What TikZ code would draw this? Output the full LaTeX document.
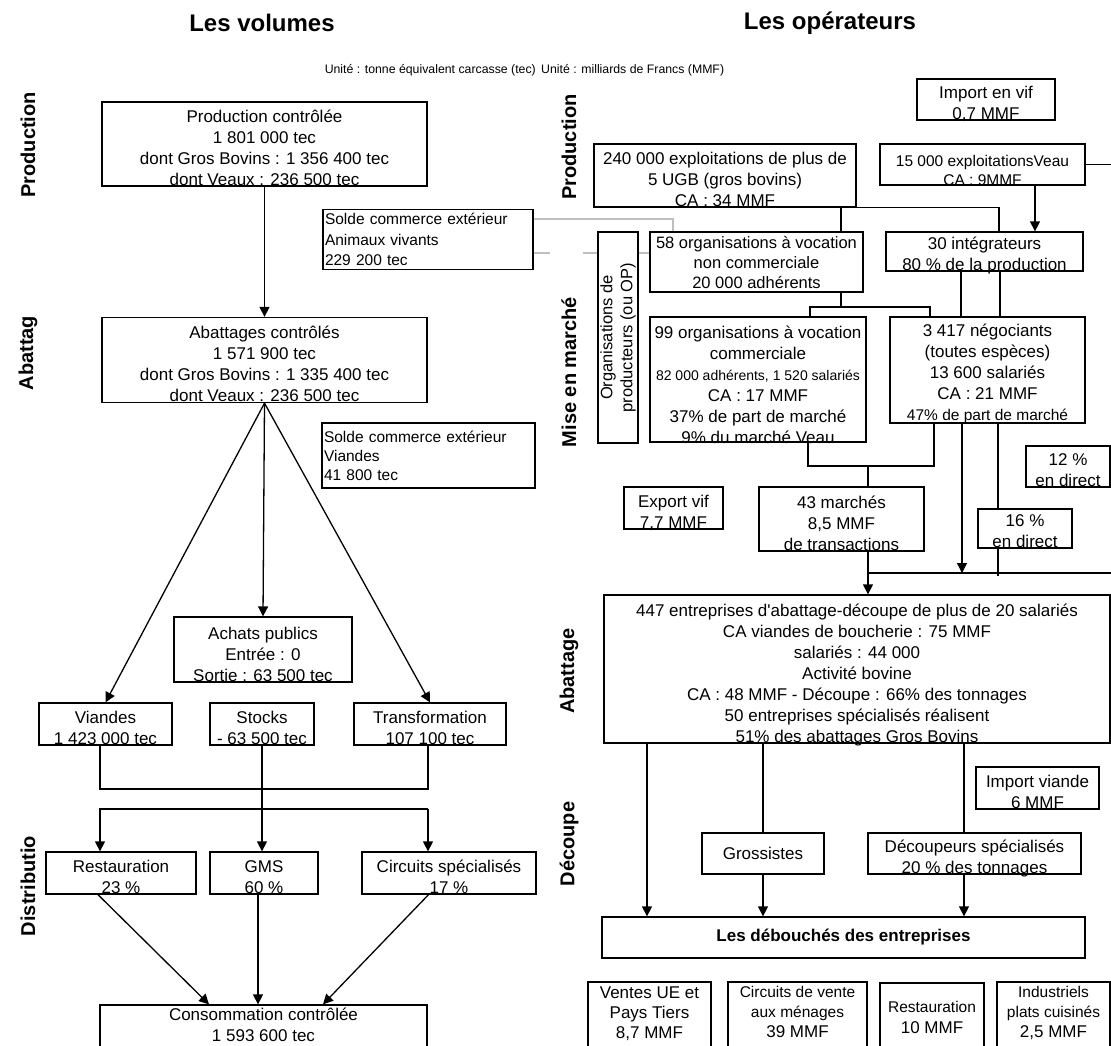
\documentclass[tikz,border=0pt]{standalone}
\usepackage{fontspec}
\setmainfont{Liberation Sans}
\usetikzlibrary{arrows.meta}
\begin{document}
\begin{tikzpicture}[x=1pt,y=-1pt,
	every node/.style={font=\fontsize{17}{21}\selectfont},
	box/.style 2 args={draw,line width=1.3pt,inner sep=0pt,minimum width=#1pt,minimum height=#2pt},
	cut/.style={anchor=south,align=center,inner sep=0pt,yshift=#1,execute at end node=\strut},
	cut/.default=-5.3pt,
	head/.style={anchor=north,align=center,inner sep=0pt,yshift=#1,execute at begin node=\strut},
	head/.default=-5pt,
	solde/.style={draw,line width=1.3pt,align=left,text width=#1pt,inner xsep=2pt,inner ysep=4pt,font=\fontsize{15.5}{20.5}\selectfont},
	arr/.style={line width=1.3pt,-{Triangle[length=10pt,width=10pt]}},
	link/.style={line width=1.3pt},
	greyline/.style={line width=2.6pt,draw=black!25},
	stage/.style={rotate=90,font=\bfseries\fontsize{20}{24}\selectfont},
	title/.style={font=\bfseries\fontsize{24}{28}\selectfont},
	unit/.style={inner sep=0pt,font=\fontsize{12.3}{15}\selectfont}]
\path[use as bounding box,fill=white] (0,0) rectangle (1111,1045);

\node[title] (tvol) at (262,23) {Les volumes};
\node[title] (tope) at (830,23) {Les opérateurs};
\node[unit,anchor=east] (unita) at (536,70) {Unité : tonne équivalent carcasse (tec)};
\node[unit,anchor=west] (unitb) at (541,70) {Unité : milliards de Francs (MMF)};

\node[stage] (sprod) at (28,145) {Production};
\node[stage] (sabat) at (28,353) {Abattag};
\node[stage] (sdist) at (28,886) {Distributio};
\node[stage] (oprod) at (569,147) {Production};
\node[stage] (omarch) at (569,372) {Mise en marché};
\node[stage] (oabat) at (569,671) {Abattage};
\node[stage] (odec) at (569,844) {Découpe};

\node[box={325}{84},label={[cut]south:{Production contrôlée\\1 801 000 tec\\dont Gros Bovins : 1 356 400 tec\\dont Veaux : 236 500 tec}}] (prod) at (264.5,144) {};
\node[solde=206] (soldeav) at (428,239.5) {Solde commerce extérieur\\Animaux vivants\\229 200 tec};
\node[box={325}{85},label={[cut]south:{Abattages contrôlés\\1 571 900 tec\\dont Gros Bovins : 1 335 400 tec\\dont Veaux : 236 500 tec}}] (abat) at (264.5,360) {};
\node[solde=209,minimum height=65pt,font=\fontsize{15.5}{19}\selectfont] (soldevi) at (428.5,455.5) {Solde commerce extérieur\\Viandes\\41 800 tec};
\node[box={178}{65},label={[cut]south:{Achats publics\\Entrée : 0\\Sortie : 63 500 tec}}] (achats) at (263,649.5) {};
\node[box={133}{42},label={[cut]south:{Viandes\\1 423 000 tec}}] (viandes) at (105.5,724) {};
\node[box={104}{42},label={[cut]south:{Stocks\\- 63 500 tec}}] (stocks) at (262,724) {};
\node[box={152}{42},label={[cut]south:{Transformation\\107 100 tec}}] (transf) at (430,724) {};
\node[box={150}{42},label={[cut]south:{Restauration\\23 \%}}] (resto) at (121,873) {};
\node[box={108}{42},label={[cut]south:{GMS\\60 \%}}] (gms) at (264,873) {};
\node[box={174}{42},label={[cut]south:{Circuits spécialisés\\17 \%}}] (circ) at (449,873) {};
\node[box={327}{45},label={[head=-3pt]north:{Consommation contrôlée\\1 593 600 tec}}] (conso) at (263.5,1027.5) {};

\node[box={138}{41},label={[cut]south:{Import en vif\\0,7 MMF}}] (impvif) at (986,99.5) {};
\node[box={262}{63},label={[cut]south:{240 000 exploitations de plus de\\5 UGB (gros bovins)\\CA : 34 MMF}}] (exploit) at (725,175.5) {};
\node[box={205}{41},label={[cut,font=\fontsize{15.5}{19}\selectfont]south:{15 000 exploitationsVeau\\CA : 9MMF}}] (veau) at (982.5,164.5) {};
\node[box={213}{60},align=center,font=\fontsize{16.5}{20}\selectfont] (op58) at (756.5,262) {58 organisations à vocation\\non commerciale\\20 000 adhérents};
\node[box={197}{39},label={[cut]south:{30 intégrateurs\\80 \% de la production}}] (integ) at (984.5,251.5) {};
\node[box={211}{40},rotate=90,align=center,font=\fontsize{16.5}{20}\selectfont] (opbox) at (618,337.5) {Organisations de\\producteurs (ou OP)};
\node[box={216}{125},label={[cut=-7.8pt]south:{99 organisations à vocation\\commerciale\\{\fontsize{14}{21}\selectfont 82 000 adhérents, 1 520 salariés}\\CA : 17 MMF\\37\% de part de marché\\9\% du marché Veau}}] (org99) at (758,379.5) {};
\node[box={195}{106},label={[cut=-3.3pt]south:{3 417 négociants\\(toutes espèces)\\13 600 salariés\\CA : 21 MMF\\{\fontsize{15.5}{21}\selectfont 47\% de part de marché}}}] (neg) at (987.5,370) {};
\node[box={99}{42},label={[cut]south:{Export vif\\7,7 MMF}}] (expvif) at (673.5,508) {};
\node[box={165}{64},label={[cut]south:{43 marchés\\8,5 MMF\\de transactions}}] (march) at (841.5,519) {};
\node[box={84}{41},label={[cut]south:{12 \%\\en direct}}] (pc12) at (1068,466.5) {};
\node[box={94}{39},label={[cut]south:{16 \%\\en direct}}] (pc16) at (1025,528.5) {};
\node[box={506}{148},label={[cut]south:{447 entreprises d\textquotesingle abattage-découpe de plus de 20 salariés\\CA viandes de boucherie : 75 MMF\\salariés : 44 000\\Activité bovine\\CA : 48 MMF - Découpe : 66\% des tonnages\\50 entreprises spécialisés réalisent\\51\% des abattages Gros Bovins}}] (abt) at (857,669) {};
\node[box={123}{42},label={[cut]south:{Import viande\\6 MMF}}] (impvi) at (1037.5,788) {};
\node[box={122}{41}] (gross) at (763,853.5) {Grossistes};
\node[box={213}{41},label={[cut]south:{Découpeurs spécialisés\\20 \% des tonnages}}] (decoup) at (974.5,853.5) {};
\node[box={483}{41},font=\bfseries\fontsize{17}{21}\selectfont] (deb) at (843.5,937.5) {Les débouchés des entreprises};
\node[box={123}{70},label={[head,font=\fontsize{17}{20}\selectfont]north:{Ventes UE et\\Pays Tiers\\8,7 MMF}}] (ventes) at (649.5,1017) {};
\node[box={139}{70},label={[head,font=\fontsize{17}{20}\selectfont]north:{{\fontsize{15.5}{20}\selectfont Circuits de vente}\\{\fontsize{15.5}{20}\selectfont aux ménages}\\39 MMF}}] (circv) at (797.5,1017) {};
\node[box={104}{69},align=center,font=\fontsize{15.5}{21}\selectfont] (resto10) at (932,1017.5) {Restauration\\{\fontsize{17}{21}\selectfont 10 MMF}};
\node[box={113}{70},label={[head,font=\fontsize{15.5}{20}\selectfont]north:{Industriels\\plats cuisinés\\{\fontsize{17}{20}\selectfont 2,5 MMF}}}] (indus) at (1053.5,1017) {};

\draw[arr] (prod.south) -- (abat.north);
\draw[arr] (abat.south) -- (viandes.north);
\draw[arr] (abat.south) -- (achats.north);
\draw[arr] (abat.south) -- (transf.north);
\coordinate (lft) at (100,809);
\coordinate (rgt) at (428,809);
\coordinate (mid) at (100,789);
\draw[link] (lft |- viandes.south) -- (mid) -| (rgt |- transf.south);
\draw[arr] (stocks.south) -- (stocks.south |- gms.north);
\draw[arr] (rgt) -- (lft) -- (lft |- resto.north);
\draw[arr] (rgt) -- (rgt |- circ.north);
\draw[arr] ([xshift=-23pt]resto.south) -- ([xshift=-54.5pt]conso.north);
\draw[arr] ([xshift=-6pt]gms.south) -- ([xshift=-6pt]gms.south |- conso.north);
\draw[arr] ([xshift=-20.5pt]circ.south) -- ([xshift=59.5pt]conso.north);

\coordinate (g1) at (673,219);
\coordinate (g2) at (550,253);
\coordinate (g3) at (583,253);
\draw[greyline] (soldeav.east |- g1) -| (g1 |- op58.north);
\draw[greyline] (soldeav.east |- g2) -- (g2);
\draw[greyline] (g3) -- (opbox.north |- g3);
\draw[greyline] (opbox.south |- g3) -- (op58.west |- g3);

\coordinate (f1) at (841,307);
\coordinate (f1l) at (810,307);
\coordinate (f1r) at (930,307);
\draw[link] (exploit.south -| f1) -- (op58.north -| f1);
\draw[link] (exploit.south east) -| ([xshift=14.5pt]integ.north);
\draw[arr] ([xshift=52.5pt]veau.south) -- ([xshift=52.5pt]veau.south |- integ.north);
\coordinate (vout) at (1115,164.5);
\draw[link] (veau.east) -- (vout);
\draw[link] ([xshift=-23.5pt]integ.south) -- ([xshift=-23.5pt]integ.south |- neg.north);
\draw[link] ([xshift=15.5pt]integ.south) -- ([xshift=15.5pt]integ.south |- neg.north);
\draw[link] (f1 |- op58.south) -- (f1);
\draw[link] (f1l |- org99.north) |- (f1r) -- (f1r |- neg.north);
\coordinate (f2l) at (808,466);
\coordinate (f2m) at (868,466);
\coordinate (f2r) at (934,466);
\draw[link] (f2l |- org99.south) |- (f2r) -- (f2r |- neg.south);
\draw[link] (f2m) -- (f2m |- march.north);
\coordinate (bus) at (868,573);
\coordinate (bout) at (1115,573);
\draw[link] (bus) -- (bout);
\draw[arr] (bus |- march.south) -- (bus |- abt.north);
\coordinate (n1) at (962,573);
\coordinate (n2) at (998,576);
\draw[arr] (n1 |- neg.south) -- (n1);
\draw[link] (n2 |- neg.south) -- (n2 |- pc16.north);
\draw[link] (n2 |- pc16.south) -- (n2);
\coordinate (d1) at (647,900);
\coordinate (d3) at (964,900);
\draw[arr] (d1 |- abt.south) -- (d1 |- deb.north);
\draw[link] (gross.north |- abt.south) -- (gross.north);
\draw[arr] (gross.south) -- (gross.south |- deb.north);
\draw[link] (d3 |- abt.south) -- (d3 |- decoup.north);
\draw[arr] (d3 |- decoup.south) -- (d3 |- deb.north);
\end{tikzpicture}
\end{document}
